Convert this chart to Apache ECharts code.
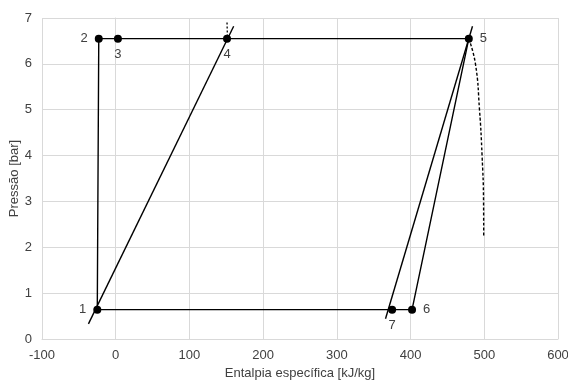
<!DOCTYPE html>
<html>
<head>
<meta charset="utf-8">
<script src="https://cdn.jsdelivr.net/npm/echarts@6/dist/echarts.min.js"></script>
<style>
html,body{margin:0;padding:0;background:#fff;}
#chart{width:568px;height:381px;}
</style>
</head>
<body>
<div id="chart"></div>
<script>
// state points of the cycle
const pointNames = ['1','2','3','4','5','6','7']
const pointH = [-25, -23, 3, 151, 479, 402, 375]
const pointP = [0.64, 6.55, 6.55, 6.55, 6.55, 0.64, 0.64]
const labelPos = ['left','left','bottom','bottom','right','right','bottom']

// cycle path (indices into points)
const cyclePath = [0, 1, 4, 5, 0]

// saturation lines
const liquidH = [-37, 160]
const liquidP = [0.33, 6.82]
const vaporH = [366, 484]
const vaporP = [0.44, 6.82]
const markH = [151, 151.5]
const markP = [6.9, 6.62]
// dashed curve from point 5
const curveH = [479, 488, 493.5, 497, 499, 499.2]
const curveP = [6.55, 6, 5, 4, 3, 2.24]

const xTicks = {min:-100, max:600, interval:100}
const yTicks = {min:0, max:7, interval:1}

const font = 'Liberation Sans, Arial, sans-serif'
const textColor = '#404040'
const zip = (a,b) => a.map((v,i)=>[v,b[i]])

const lineStyle = {color:'#000', width:1.4}
const axisCommon = {
  nameLocation:'middle',
  nameMoveOverlap:false,
  nameTextStyle:{color:textColor, fontSize:13, fontFamily:font},
  axisLine:{show:true, lineStyle:{color:'#d9d9d9'}},
  axisTick:{show:false},
  axisLabel:{color:textColor, fontSize:13, fontFamily:font, margin:10},
  splitLine:{lineStyle:{color:'#d9d9d9', width:1}}
}
const options = {
  animation:false,
  grid:{left:42, right:10, top:18, bottom:42, outerBoundsMode:'none'},
  xAxis:{type:'value', ...xTicks, ...axisCommon, name:'Entalpia específica [kJ/kg]', nameGap:28},
  yAxis:{type:'value', ...yTicks, ...axisCommon, name:'Pressão [bar]', nameGap:21},
  series:[
    {type:'line', data:cyclePath.map(i=>[pointH[i],pointP[i]]), symbol:'none', lineStyle},
    {type:'line', data:zip(liquidH,liquidP), symbol:'none', lineStyle},
    {type:'line', data:zip(vaporH,vaporP), symbol:'none', lineStyle},
    {type:'line', data:zip(markH,markP), symbol:'none', lineStyle:{color:'#000', width:1.3, type:[2,2]}},
    {type:'line', data:zip(curveH,curveP), symbol:'none', smooth:true, lineStyle:{color:'#000', width:1.4, type:[3,2]}},
    {
      type:'scatter',
      symbolSize:8,
      itemStyle:{color:'#000', opacity:1},
      data:pointNames.map((n,i)=>({
        value:[pointH[i],pointP[i]],
        name:n,
        label:{show:true, position:labelPos[i], distance: labelPos[i]==='bottom'?5:7,
          formatter:n, color:textColor, fontSize:13, fontFamily:font}
      })),
      z:5
    }
  ]
}
const chart = echarts.init(document.getElementById('chart'))
chart.setOption(options)
</script>
</body>
</html>
